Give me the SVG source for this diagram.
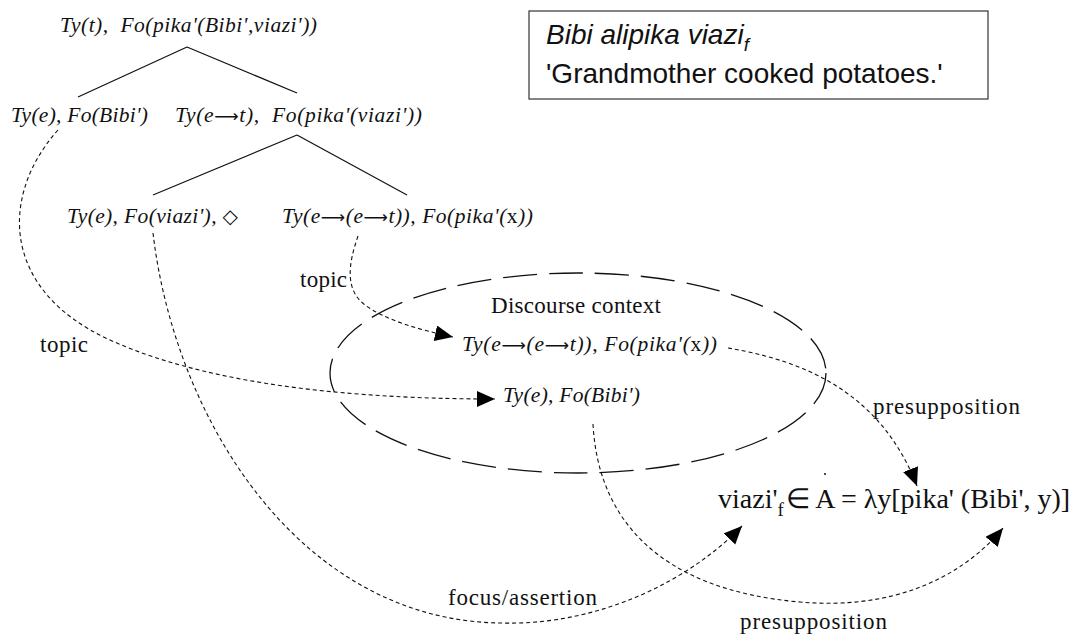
<svg xmlns="http://www.w3.org/2000/svg" width="1077" height="636" viewBox="0 0 1077 636">
<style>
.t{font-family:"Liberation Serif","Times New Roman",serif;font-size:21.5px;font-style:italic;fill:#111}
.u{font-family:"Liberation Serif","Times New Roman",serif;font-size:23px;fill:#111}
.n{font-style:normal}
.ar{font-family:"DejaVu Sans",sans-serif;font-style:normal;font-size:17px}
.dm{font-family:"DejaVu Sans",sans-serif;font-style:normal;font-size:20px}
.tree{stroke:#111;stroke-width:1.2;fill:none}
.dot{stroke:#111;stroke-width:1.1;fill:none;stroke-dasharray:4 3}
.ell{stroke:#111;stroke-width:1.3;fill:none;stroke-dasharray:34 12}
.box{font-family:"Liberation Sans",Arial,sans-serif;font-size:28px;fill:#111}
</style>
<defs>
<marker id="ah" markerUnits="userSpaceOnUse" markerWidth="20" markerHeight="18" refX="18" refY="8" orient="auto" viewBox="0 0 20 18">
<path d="M0,0 L18,8 L0,16 Z" fill="#000"/>
</marker>
</defs>
<rect width="1077" height="636" fill="#fff"/>

<g id="example-box">
<rect x="529" y="11" width="459" height="88" fill="#fff" stroke="#333" stroke-width="1.2"/>
<text class="box" x="546" y="44" font-style="italic">Bibi alipika viazi<tspan font-size="19" dy="7">f</tspan></text>
<text class="box" x="546" y="83">'Grandmother cooked potatoes.'</text>
</g>

<g id="tree-lines">
<path class="tree" d="M187,47 L78,97 M187,47 L297,93"/>
<path class="tree" d="M297,135 L153,195 M297,135 L407,195"/>
</g>

<g id="node-root"><text class="t" x="60" y="32" textLength="257" xml:space="preserve">Ty(t),  Fo(pika'(Bibi',viazi'))</text></g>
<g id="node-bibi"><text class="t" x="11" y="122" textLength="137">Ty(e), Fo(Bibi')</text></g>
<g id="node-vp"><text class="t" x="175" y="122" textLength="247" xml:space="preserve">Ty(e<tspan class="ar">⟶</tspan>t),  Fo(pika'(viazi'))</text></g>
<g id="node-viazi"><text class="t" x="67" y="223" textLength="171">Ty(e), Fo(viazi'), <tspan class="dm">◇</tspan></text></g>
<g id="node-verb"><text class="t" x="282" y="223" textLength="251">Ty(e<tspan class="ar">⟶</tspan>(e<tspan class="ar">⟶</tspan>t)), Fo(pika'(<tspan class="n">x</tspan>))</text></g>

<g id="discourse-context">
<ellipse class="ell" cx="578" cy="373" rx="248" ry="100"/>
<text class="u" x="491" y="313" textLength="170">Discourse context</text>
</g>
<g id="ctx-verb"><text class="t" x="462" y="351" textLength="255">Ty(e<tspan class="ar">⟶</tspan>(e<tspan class="ar">⟶</tspan>t)), Fo(pika'(<tspan class="n">x</tspan>))</text></g>
<g id="ctx-bibi"><text class="t" x="503" y="402" textLength="137">Ty(e), Fo(Bibi')</text></g>

<g id="formula">
<text class="u" x="718" y="508" style="font-size:28px">viazi'<tspan style="font-size:19px" dy="8">f</tspan><tspan dy="-8" dx="2">∈ A = λy[pika' (Bibi', y)]</tspan></text>
<circle cx="825" cy="474" r="1" fill="#111"/>
</g>

<g id="connectors">
<path class="dot" d="M58,130 C0,195 0,290 110,340 S380,399 495,399" marker-end="url(#ah)"/>
<path class="dot" d="M358,236 C348,265 345,290 365,305 C385,320 420,330 453,337" marker-end="url(#ah)"/>
<path class="dot" d="M153,233 C175,420 300,620 500,623 C600,626 690,580 742,526" marker-end="url(#ah)"/>
<path class="dot" d="M728,348 C800,360 880,390 917,486" marker-end="url(#ah)"/>
<path class="dot" d="M593,424 C598,520 660,590 800,602 C890,610 960,580 1003,528" marker-end="url(#ah)"/>
</g>

<g id="labels">
<text class="u" x="300" y="287" textLength="47">topic</text>
<text class="u" x="40" y="352" textLength="48">topic</text>
<text class="u" x="873" y="414" textLength="147">presupposition</text>
<text class="u" x="448" y="605" textLength="149">focus/assertion</text>
<text class="u" x="740" y="629" textLength="147">presupposition</text>
</g>
</svg>
